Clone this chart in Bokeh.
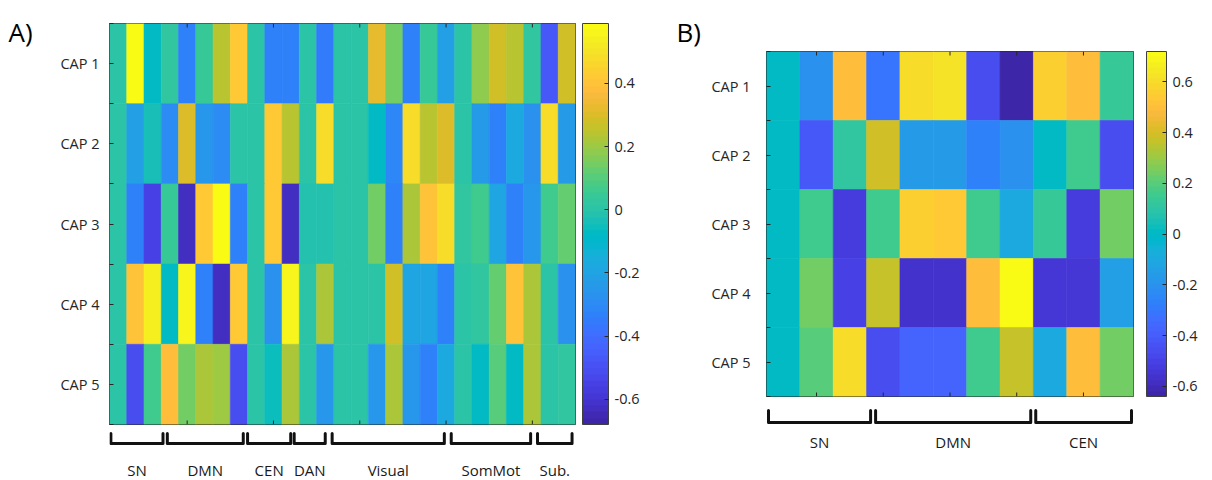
from bokeh.plotting import figure
from bokeh.models import (ColumnDataSource, LinearColorMapper, ColorBar, FixedTicker, Range1d)
from bokeh.layouts import row, column
from bokeh.embed import file_html
from bokeh.resources import INLINE
from bokeh.core.properties import value

# ---------------- data ----------------
cap_labels = ["CAP 1", "CAP 2", "CAP 3", "CAP 4", "CAP 5"]

# Panel A: 27 regions x 5 CAPs
capA_1 = [0.0, 0.58, -0.08, 0.02, -0.34, 0.04, 0.24, 0.42, 0.0, -0.34, -0.34, 0.0, -0.36, 0.0,
          0.0, 0.32, 0.14, -0.34, 0.04, -0.22, 0.0, 0.18, 0.29, 0.24, 0.03, -0.48, 0.29]
capA_2 = [0.0, -0.22, -0.04, -0.3, 0.3, -0.25, -0.3, 0.0, 0.0, 0.42, 0.24, 0.0, 0.49, 0.0,
          0.0, -0.08, -0.32, 0.49, 0.24, 0.3, 0.0, -0.24, -0.33, -0.17, -0.27, 0.49, -0.24]
capA_3 = [0.0, -0.34, -0.55, 0.05, -0.64, 0.42, 0.58, -0.34, 0.0, 0.42, -0.64, -0.02, -0.02, 0.0,
          0.0, 0.15, -0.33, 0.22, 0.4, 0.49, 0.02, 0.07, -0.2, -0.34, -0.26, 0.07, 0.12]
capA_4 = [0.0, 0.4, 0.55, -0.08, 0.57, -0.34, -0.64, 0.42, 0.0, -0.27, 0.57, 0.0, 0.22, 0.0,
          0.0, 0.0, 0.28, -0.2, -0.2, -0.33, 0.0, 0.02, 0.12, 0.4, 0.22, 0.0, -0.27]
capA_5 = [0.0, -0.52, 0.07, 0.38, 0.15, 0.22, 0.2, -0.52, 0.0, -0.05, 0.22, 0.0, -0.25, 0.0,
          0.0, -0.25, 0.22, -0.25, -0.33, -0.18, 0.0, -0.08, 0.1, -0.08, 0.22, 0.0, 0.02]

# Panel B: 11 regions x 5 CAPs
capB_1 = [0.0, -0.2, 0.5, -0.32, 0.61, 0.63, -0.45, -0.63, 0.56, 0.5, 0.14]
capB_2 = [0.0, -0.42, 0.12, 0.38, -0.16, -0.16, -0.27, -0.2, 0.0, 0.15, -0.45]
capB_3 = [0.0, 0.15, -0.52, 0.16, 0.56, 0.53, 0.15, -0.1, 0.13, -0.52, 0.25]
capB_4 = [0.0, 0.25, -0.51, 0.37, -0.56, -0.56, 0.5, 0.7, -0.55, -0.55, -0.15]
capB_5 = [0.0, 0.2, 0.6, -0.45, -0.38, -0.38, 0.15, 0.37, -0.1, 0.5, 0.25]

# network groups (column spans of the brackets)
groupsA = ["SN", "DMN", "CEN", "DAN", "Visual", "SomMot", "Sub."]
groupsA_start = [-0.42, 2.85, 7.5, 10.2, 12.4, 19.3, 24.3]
groupsA_end = [2.6, 7.25, 10.0, 12.0, 18.9, 23.9, 26.3]
groupsB = ["SN", "DMN", "CEN"]
groupsB_start = [-0.44, 2.77, 7.57]
groupsB_end = [2.62, 7.42, 10.44]

climA = (-0.68, 0.59)
climB = (-0.64, 0.72)
cbar_ticksA = [-0.6, -0.4, -0.2, 0, 0.2, 0.4]
cbar_ticksB = [-0.6, -0.4, -0.2, 0, 0.2, 0.4, 0.6]

# ---------------- style ----------------
PARULA_RGB = [
    (0.2422, 0.1504, 0.6603), (0.2504, 0.1650, 0.7076), (0.2578, 0.1818, 0.7511), (0.2647, 0.1978, 0.7952),
    (0.2706, 0.2147, 0.8364), (0.2751, 0.2342, 0.8710), (0.2783, 0.2559, 0.8991), (0.2803, 0.2782, 0.9221),
    (0.2813, 0.3006, 0.9414), (0.2810, 0.3228, 0.9579), (0.2795, 0.3447, 0.9717), (0.2760, 0.3667, 0.9829),
    (0.2699, 0.3892, 0.9906), (0.2602, 0.4123, 0.9952), (0.2440, 0.4358, 0.9988), (0.2206, 0.4603, 0.9973),
    (0.1963, 0.4847, 0.9892), (0.1834, 0.5074, 0.9798), (0.1786, 0.5289, 0.9682), (0.1764, 0.5499, 0.9520),
    (0.1687, 0.5703, 0.9359), (0.1540, 0.5902, 0.9218), (0.1460, 0.6091, 0.9079), (0.1380, 0.6276, 0.8973),
    (0.1248, 0.6459, 0.8883), (0.1113, 0.6635, 0.8763), (0.0952, 0.6798, 0.8598), (0.0689, 0.6948, 0.8394),
    (0.0297, 0.7082, 0.8163), (0.0036, 0.7203, 0.7917), (0.0067, 0.7312, 0.7660), (0.0433, 0.7411, 0.7394),
    (0.0964, 0.7500, 0.7120), (0.1408, 0.7584, 0.6842), (0.1717, 0.7670, 0.6554), (0.1938, 0.7758, 0.6251),
    (0.2161, 0.7843, 0.5923), (0.2470, 0.7918, 0.5567), (0.2906, 0.7973, 0.5188), (0.3406, 0.8008, 0.4789),
    (0.3909, 0.8029, 0.4354), (0.4456, 0.8024, 0.3909), (0.5044, 0.7993, 0.3480), (0.5616, 0.7942, 0.3045),
    (0.6174, 0.7876, 0.2612), (0.6720, 0.7793, 0.2227), (0.7242, 0.7698, 0.1910), (0.7738, 0.7598, 0.1646),
    (0.8203, 0.7498, 0.1535), (0.8634, 0.7406, 0.1596), (0.9035, 0.7330, 0.1774), (0.9393, 0.7288, 0.2100),
    (0.9728, 0.7298, 0.2394), (0.9956, 0.7434, 0.2371), (0.9970, 0.7659, 0.2199), (0.9952, 0.7893, 0.2028),
    (0.9892, 0.8136, 0.1885), (0.9786, 0.8386, 0.1766), (0.9676, 0.8639, 0.1643), (0.9610, 0.8890, 0.1537),
    (0.9597, 0.9135, 0.1423), (0.9628, 0.9373, 0.1265), (0.9691, 0.9606, 0.1064), (0.9769, 0.9839, 0.0805),
]
PARULA = ["#%02x%02x%02x" % tuple(int(round(c * 255)) for c in rgb) for rgb in PARULA_RGB]

FONT = "Open Sans"
TXT = "#262626"
H_TOTAL = 480


def fmt(t):
    return "0" if t == 0 else ("%.1f" % t)


def heatmap(rows, clim, cticks, W, H, bl, br, bt, bb, xstep, cbw, cbgap, ystandoff):
    ncol = len(rows[0])
    xs, ys, vs = [], [], []
    for r, vals in enumerate(rows):
        for c, v in enumerate(vals):
            xs.append(c)
            ys.append(r + 1)
            vs.append(v)
    src = ColumnDataSource(dict(x=xs, y=ys, v=vs))
    mapper = LinearColorMapper(palette=PARULA, low=clim[0], high=clim[1])
    p = figure(width=W, height=H, x_range=Range1d(-0.5, ncol - 0.5), y_range=Range1d(5.5, 0.5),
               output_backend="svg", toolbar_location=None, x_axis_location=None,
               min_border_left=bl, min_border_right=br, min_border_top=bt, min_border_bottom=bb)
    p.rect(x="x", y="y", width=1, height=1, source=src,
           fill_color={"field": "v", "transform": mapper},
           line_color={"field": "v", "transform": mapper}, line_width=0.6)
    p.grid.visible = False
    p.outline_line_color = "#262626"
    p.outline_line_width = 1
    p.background_fill_color = "white"
    p.border_fill_color = "white"

    ya = p.yaxis[0]
    ya.ticker = FixedTicker(ticks=[1, 2, 3, 4, 5], minor_ticks=[0.5, 1.5, 2.5, 3.5, 4.5, 5.5])
    ya.major_label_overrides = {i + 1: lab for i, lab in enumerate(cap_labels)}
    ya.major_label_text_font = FONT
    ya.major_label_text_font_size = "14.5px"
    ya.major_label_text_color = TXT
    ya.major_tick_in = 4
    ya.major_tick_out = 0
    ya.minor_tick_in = 4
    ya.minor_tick_out = 0
    ya.major_label_standoff = ystandoff
    ya.axis_line_color = None
    ya.major_tick_line_color = TXT
    ya.minor_tick_line_color = TXT

    # small inward tick marks on top and bottom edges
    xt = [c for c in range(xstep - 1, ncol, xstep)]
    row_px = (H - bt - bb) / 5.0
    tl = 4.0 / row_px
    p.segment(x0=xt + xt, x1=xt + xt, y0=[0.5] * len(xt) + [5.5] * len(xt),
              y1=[0.5 + tl] * len(xt) + [5.5 - tl] * len(xt), line_color=TXT, line_width=1)

    cb = ColorBar(color_mapper=mapper, ticker=FixedTicker(ticks=cticks, minor_ticks=[]),
                  width=cbw, height=H - bt - bb, padding=0, margin=0, location=(cbgap, 0),
                  major_label_overrides={t: fmt(t) for t in cticks},
                  major_label_text_font=FONT, major_label_text_font_size="14.5px",
                  major_label_text_color=TXT, major_tick_line_color=TXT,
                  major_tick_in=4, major_tick_out=0, label_standoff=6,
                  bar_line_color="#404040", background_fill_alpha=0, border_line_color=None)
    p.add_layout(cb, "right")
    return p


def bracket_fig(W, H, bl, br, x_range, names, starts, ends, top, bot, ly, fs):
    q = figure(width=W, height=H, x_range=x_range, y_range=Range1d(H, 0),
               output_backend="svg", toolbar_location=None,
               min_border_left=bl, min_border_right=br, min_border_top=0, min_border_bottom=0,
               x_axis_location=None, y_axis_location=None)
    q.outline_line_color = None
    q.grid.visible = False
    q.multi_line(xs=[[s, s, e, e] for s, e in zip(starts, ends)],
                 ys=[[top, bot, bot, top] for _ in names],
                 line_color="#111111", line_width=3, line_join="round", line_cap="round")
    q.text(x=[(s + e) / 2 for s, e in zip(starts, ends)], y=[ly] * len(names), text=names,
           text_align="center", text_baseline="middle", text_font=value(FONT),
           text_font_size=fs, text_color="#1a1a1a")
    return q


def panel_letter(W, text, lx, ly):
    f = figure(width=W, height=H_TOTAL, x_range=Range1d(0, W), y_range=Range1d(H_TOTAL, 0),
               output_backend="svg", toolbar_location=None, min_border=0,
               x_axis_location=None, y_axis_location=None)
    f.outline_line_color = None
    f.grid.visible = False
    f.text(x=[lx], y=[ly], text=[text], text_align="left", text_baseline="alphabetic",
           text_font=value(FONT), text_font_size="26px", text_color="black")
    return f


# ---------------- panel A ----------------
WLA = 40
WA, HA = 605, 428
blA, brA, btA, bbA = 69, 70, 23, 4
pA = heatmap([capA_1, capA_2, capA_3, capA_4, capA_5], climA, cbar_ticksA, WA, HA,
             blA, brA, btA, bbA, 5, 26, 7, 10)
bA = bracket_fig(WA, H_TOTAL - HA, blA, brA, pA.x_range, groupsA, groupsA_start, groupsA_end,
                 5, 15, 41, "15px")
lA = panel_letter(WLA, "A)", 8, 31)

# ---------------- panel B ----------------
WLB = 60
WB, HB = 507, 400
blB, brB, btB, bbB = 61, 79, 51, 4
pB = heatmap([capB_1, capB_2, capB_3, capB_4, capB_5], climB, cbar_ticksB, WB, HB,
             blB, brB, btB, bbB, 2, 20, 13, 16)
bB = bracket_fig(WB, H_TOTAL - HB, blB, brB, pB.x_range, groupsB, groupsB_start, groupsB_end,
                 10, 22, 41, "15px")
lB = panel_letter(WLB, "B)", 31, 31)

layout = row(lA, column(pA, bA), lB, column(pB, bB))
open("out.html", "w").write(file_html(layout, INLINE))
